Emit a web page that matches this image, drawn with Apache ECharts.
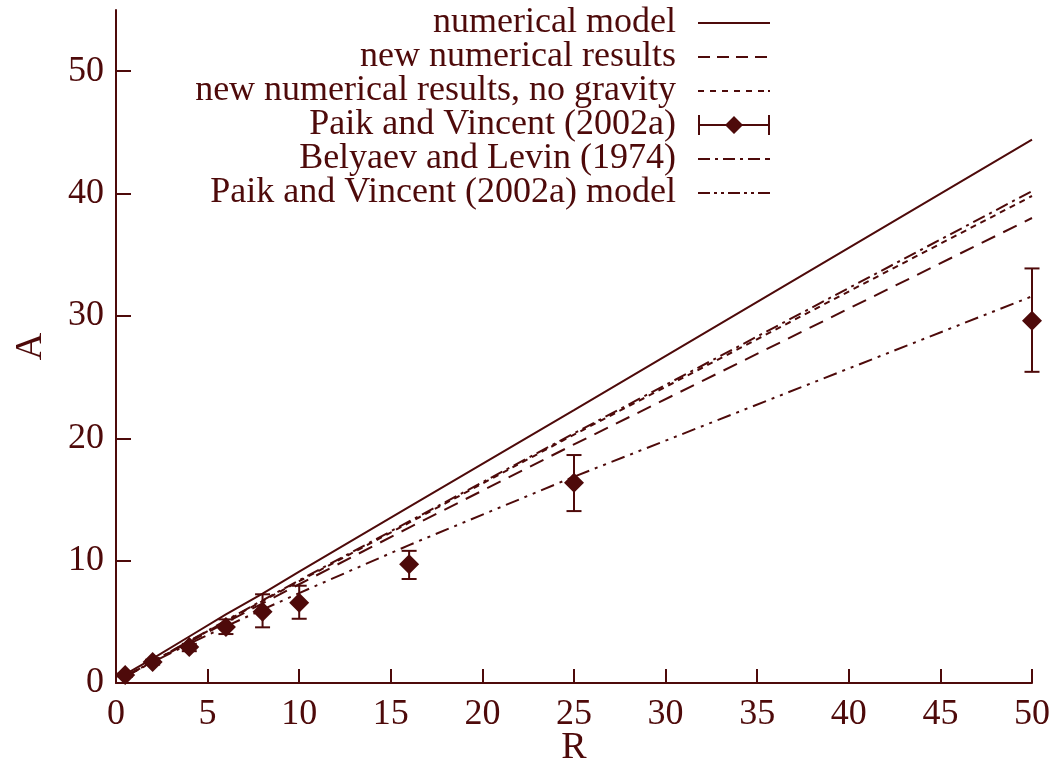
<!DOCTYPE html>
<html>
<head>
<meta charset="utf-8">
<script src="https://cdn.jsdelivr.net/npm/echarts@6/dist/echarts.min.js"></script>
<style>
html,body{margin:0;padding:0;background:#fff;}
#c{width:1058px;height:764px;}
</style>
</head>
<body>
<div id="c"></div>
<script>
// ---- data ----
const R_curve = [0.5, 2, 4, 6, 8, 10, 16, 25, 50];
const A_numericalModel = [0.7, 2.0, 3.8, 5.6, 7.3, 9.1, 14.4, 22.3, 44.4];
const A_newNumerical = [0.55, 1.71, 3.34, 4.94, 6.51, 8.07, 12.7, 19.5, 38.0];
const A_noGravity = [0.55, 1.74, 3.41, 5.06, 6.70, 8.32, 13.1, 20.3, 39.8];
const A_belyaev = [0.55, 1.75, 3.44, 5.11, 6.76, 8.39, 13.2, 20.4, 40.2];
const A_paikModel = [0.5, 1.71, 3.2, 4.63, 6.0, 7.35, 11.27, 16.86, 31.6];

const R_exp = [0.5, 2, 4, 6, 8, 10, 16, 25, 50];
const A_exp = [0.65, 1.72, 2.94, 4.58, 5.83, 6.56, 9.7, 16.37, 29.6];
const A_expLow = [0.5, 1.5, 2.6, 4.0, 4.55, 5.25, 8.5, 14.05, 25.43];
const A_expHigh = [0.8, 1.9, 3.2, 5.2, 7.25, 7.95, 10.8, 18.63, 33.88];

const xTicks = [0, 5, 10, 15, 20, 25, 30, 35, 40, 45, 50];
const yTicks = [0, 10, 20, 30, 40, 50];

const names = [
  'numerical model',
  'new numerical results',
  'new numerical results, no gravity',
  'Paik and Vincent (2002a)',
  'Belyaev and Levin (1974)',
  'Paik and Vincent (2002a) model'
];

// ---- styling ----
const C = '#4e0a0a';
const FONT = 'Liberation Serif';

function pairs(xs, ys) { return xs.map((x, i) => [x, ys[i]]); }

// legend icon built from dash segments [start,end] along a 72x20 box
function dashIcon(segs) {
  let p = 'path://M0,0L0,0Z M72,20L72,20Z';
  segs.forEach(s => { p += ' M' + s[0] + ',9L' + s[1] + ',9L' + s[1] + ',11L' + s[0] + ',11Z'; });
  return p;
}
const iconSolid = dashIcon([[0, 72]]);
const iconDash = dashIcon([[0, 12], [19, 31], [38, 50], [57, 69]]);
const iconShort = dashIcon([[0, 6], [12, 18], [24, 30], [36, 42], [48, 54], [60, 66], [70, 72]]);
const iconDashDot = dashIcon([[0, 12], [17, 20], [25, 37], [42, 45], [50, 62], [67, 72]]);
const iconDashDotDot = dashIcon([[0, 12], [16, 19], [23, 26], [30, 42], [46, 49], [53, 56], [60, 72]]);
const expIcon = 'path://M0,0L2,0L2,20L0,20Z M0,9L72,9L72,11L0,11Z M70,0L72,0L72,20L70,20Z M27,10L36,1L45,10L36,19Z';

function lineSeries(name, ys, dash) {
  return {
    name: name,
    type: 'line',
    data: pairs(R_curve, ys),
    symbol: 'none',
    showSymbol: false,
    lineStyle: { color: C, width: 2, type: dash },
    itemStyle: { color: C },
    z: 2,
    animation: false
  };
}

const errData = R_exp.map((x, i) => [x, A_expLow[i], A_expHigh[i]]);

const option = {
  backgroundColor: '#fff',
  animation: false,
  textStyle: { fontFamily: FONT, color: C },
  grid: { left: 116, right: 26, top: 10, bottom: 81, containLabel: false, outerBoundsMode: 'none' },
  legend: {
    orient: 'vertical',
    right: 283,
    top: 0,
    align: 'right',
    itemWidth: 72,
    itemHeight: 20,
    itemGap: -2,
    selectedMode: false,
    textStyle: { fontFamily: FONT, fontSize: 36, color: C, lineHeight: 30, padding: [0, 17, 0, 0] },
    data: [
      { name: names[0], icon: iconSolid, itemStyle: { color: C } },
      { name: names[1], icon: iconDash, itemStyle: { color: C } },
      { name: names[2], icon: iconShort, itemStyle: { color: C } },
      { name: names[3], icon: expIcon, itemStyle: { color: C } },
      { name: names[4], icon: iconDashDot, itemStyle: { color: C } },
      { name: names[5], icon: iconDashDotDot, itemStyle: { color: C } }
    ]
  },
  xAxis: {
    type: 'value',
    min: 0, max: 50, interval: 5,
    name: 'R',
    nameLocation: 'middle',
    nameGap: 46,
    nameMoveOverlap: false,
    nameTextStyle: { fontFamily: FONT, fontSize: 38, color: C },
    axisLine: { show: true, onZero: false, lineStyle: { color: C, width: 2 } },
    axisTick: { show: true, inside: true, length: 14, lineStyle: { color: C, width: 2 }, customValues: xTicks },
    axisLabel: { fontFamily: FONT, fontSize: 36, color: C, margin: 14, customValues: xTicks },
    splitLine: { show: false }
  },
  yAxis: {
    type: 'value',
    min: 0, max: 55, interval: 10,
    name: 'A',
    nameLocation: 'middle',
    nameGap: 66,
    nameMoveOverlap: false,
    nameRotate: 90,
    nameTextStyle: { fontFamily: FONT, fontSize: 38, color: C },
    axisLine: { show: true, onZero: false, lineStyle: { color: C, width: 2 } },
    axisTick: { show: true, inside: true, length: 15, lineStyle: { color: C, width: 2 }, customValues: yTicks },
    axisLabel: { fontFamily: FONT, fontSize: 36, color: C, margin: 12, customValues: yTicks },
    splitLine: { show: false }
  },
  series: [
    lineSeries(names[0], A_numericalModel, 'solid'),
    lineSeries(names[1], A_newNumerical, [15, 9]),
    lineSeries(names[2], A_noGravity, [6, 5]),
    {
      name: names[3],
      type: 'scatter',
      data: pairs(R_exp, A_exp),
      symbol: 'diamond',
      symbolSize: [20, 20],
      itemStyle: { color: C, opacity: 1 },
      z: 5,
      animation: false
    },
    {
      name: names[3],
      type: 'custom',
      data: errData,
      encode: { x: 0, y: [1, 2] },
      z: 4,
      renderItem: function (params, api) {
        const x = api.value(0);
        const lo = api.coord([x, api.value(1)]);
        const hi = api.coord([x, api.value(2)]);
        const hw = 7.5;
        const st = { stroke: C, lineWidth: 2 };
        return {
          type: 'group',
          children: [
            { type: 'line', shape: { x1: lo[0], y1: lo[1], x2: hi[0], y2: hi[1] }, style: st },
            { type: 'line', shape: { x1: lo[0] - hw, y1: lo[1], x2: lo[0] + hw, y2: lo[1] }, style: st },
            { type: 'line', shape: { x1: hi[0] - hw, y1: hi[1], x2: hi[0] + hw, y2: hi[1] }, style: st }
          ]
        };
      },
      animation: false
    },
    lineSeries(names[4], A_belyaev, [13, 5, 3, 5]),
    lineSeries(names[5], A_paikModel, [14, 6, 3, 6, 3, 6])
  ]
};

const chart = echarts.init(document.getElementById('c'), null, { renderer: 'canvas' });
chart.setOption(option);
</script>
</body>
</html>
